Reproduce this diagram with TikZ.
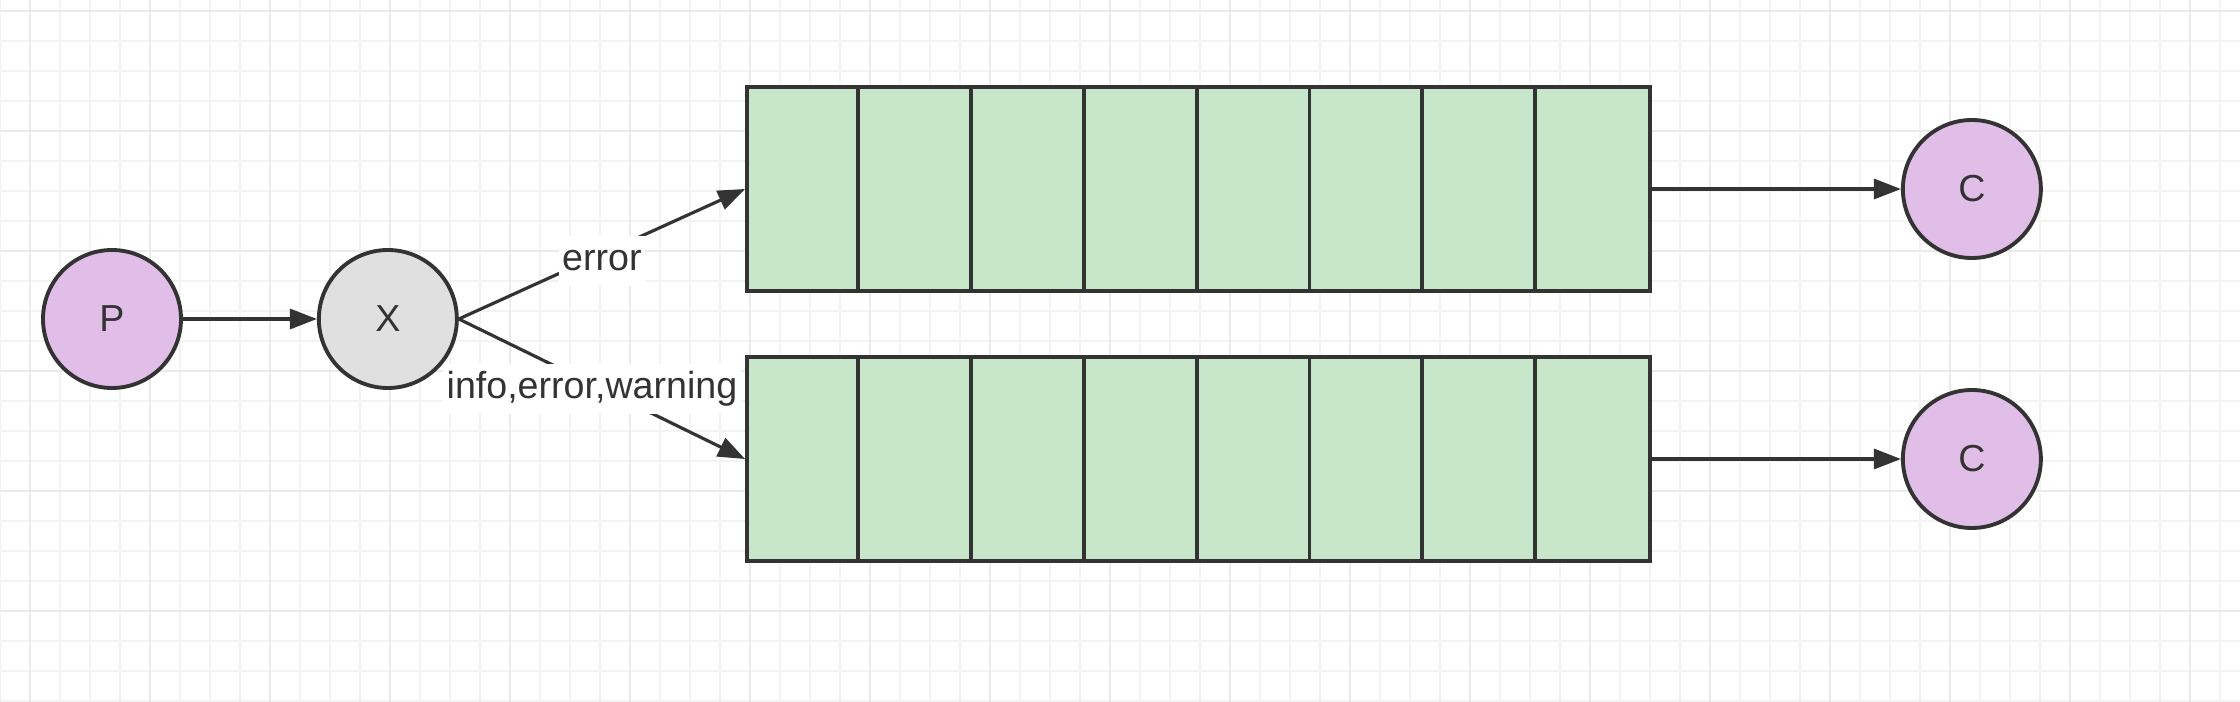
\documentclass[tikz,border=0pt]{standalone}
\usepackage{fontspec}
\setmainfont{Liberation Sans}
\usetikzlibrary{positioning, arrows.meta}
\definecolor{lineGray}{HTML}{333333}
\definecolor{consumerPink}{HTML}{E1BEE7}
\definecolor{switchGray}{HTML}{E0E0E0}
\definecolor{queueGreen}{HTML}{C8E6C9}
\definecolor{gridMinor}{HTML}{F3F3F3}
\definecolor{gridMajor}{HTML}{EAEAEA}
\tikzstyle{roundBox} = [shape=circle, draw=lineGray, line width=1.1pt, text=lineGray,
	minimum size=1.38cm, inner sep=0pt, font=\fontsize{10.7pt}{12pt}\selectfont]
\tikzstyle{pinkBox} = [roundBox, fill=consumerPink]
\tikzstyle{grayBox} = [roundBox, fill=switchGray]
\tikzstyle{queueBox} = [shape=rectangle, draw=lineGray, line width=1.1pt, fill=queueGreen,
	minimum width=9.03cm, minimum height=2.04cm, inner sep=0pt]
\tikzstyle{queueLine} = [draw=lineGray, line width=1.1pt]
\tikzstyle{normalArrow} = [line width=0.9pt, draw=lineGray, -{Triangle[length=0.27cm, width=0.2cm]}]
\tikzstyle{keyLabel} = [fill=white, text=lineGray, inner xsep=1pt, inner ysep=0pt,
	minimum height=0.5cm, font=\fontsize{10.7pt}{12pt}\selectfont]

\begin{document}
\begin{tikzpicture}[node distance=1.34cm]
  \useasboundingbox (0,0) rectangle (22.4,-7.02);
  \fill[white] (0,0) rectangle (22.4,-7.02);
  % background grid
  \foreach \gx in {0,0.3,...,22.45} \draw[gridMinor, line width=0.4pt] (\gx,0) -- (\gx,-7.02);
  \foreach \gy in {0.11,0.41,...,7.05} \draw[gridMinor, line width=0.4pt] (0,-\gy) -- (22.4,-\gy);
  \foreach \gx in {0.3,1.5,...,22.45} \draw[gridMajor, line width=0.7pt] (\gx,0) -- (\gx,-7.02);
  \foreach \gy in {0.11,1.31,...,7.05} \draw[gridMajor, line width=0.7pt] (0,-\gy) -- (22.4,-\gy);

  \node (P) at (1.12,-3.19) [pinkBox] {P};
  \node (X) [grayBox, right=of P] {X};

  \node (queueA) at (11.985,-1.89) [queueBox] {};
  \node (queueB) at (11.985,-4.59) [queueBox] {};
  \foreach \i in {1,...,7} {
    \draw[queueLine] ([xshift=\i*1.12875cm]queueA.north west) -- ([xshift=\i*1.12875cm]queueA.south west);
    \draw[queueLine] ([xshift=\i*1.12875cm]queueB.north west) -- ([xshift=\i*1.12875cm]queueB.south west);
  }

  \node (C1) [pinkBox, right=2.49cm of queueA] {C};
  \node (C2) [pinkBox, right=2.49cm of queueB] {C};

  \draw [normalArrow] (P) -- (X);
  \draw [normalArrow] (X.east) -- node[keyLabel, yshift=-0.07cm] {error} (queueA.west);
  \draw [normalArrow] (X.east) -- node[keyLabel, xshift=-0.1cm] {info,error,warning} (queueB.west);
  \draw [normalArrow] (queueA) -- (C1);
  \draw [normalArrow] (queueB) -- (C2);
\end{tikzpicture}
\end{document}
